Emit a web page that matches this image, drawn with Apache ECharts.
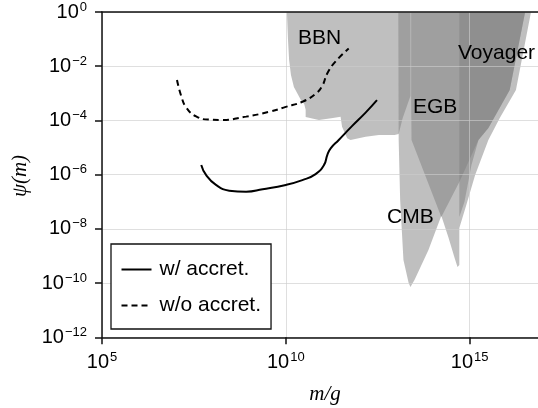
<!DOCTYPE html>
<html>
<head>
<meta charset="utf-8">
<script src="https://cdn.jsdelivr.net/npm/echarts@6/dist/echarts.min.js"></script>
<style>
  html, body { margin: 0; padding: 0; background: #fff; }
  #chart { width: 538px; height: 408px; }
</style>
</head>
<body>
<div id="chart"></div>
<script>
// All values are decimal exponents: [log10(m / g), log10(psi)]

// Mass function with accretion
const withAccretion = [
  [7.70, -5.64], [7.83, -6.01], [8.10, -6.38], [8.46, -6.59], [8.92, -6.63],
  [9.37, -6.54], [10.00, -6.38], [10.45, -6.20], [10.81, -5.98], [11.04, -5.64],
  [11.13, -5.27], [11.22, -5.03], [11.44, -4.72], [11.80, -4.21], [12.17, -3.71],
  [12.48, -3.25]
];

// Mass function without accretion
const withoutAccretion = [
  [7.04, -2.51], [7.16, -3.12], [7.29, -3.52], [7.56, -3.85], [7.92, -3.97],
  [8.24, -3.98], [8.92, -3.86], [9.55, -3.68], [10.00, -3.50], [10.45, -3.31],
  [10.81, -3.02], [10.99, -2.73], [11.13, -2.26], [11.35, -1.83], [11.71, -1.35]
];

// Excluded regions (outlines, closed along the top of the plot)
const bbnRegion = [
  [10.03, 0], [10.06, -1.03], [10.09, -1.77], [10.14, -2.32], [10.22, -2.77],
  [10.41, -3.25], [10.50, -3.39], [10.54, -3.61], [10.54, -3.87], [10.90, -3.98],
  [11.28, -3.91], [11.49, -3.86], [11.53, -4.23], [11.67, -4.66], [11.76, -4.72],
  [12.17, -4.60], [12.53, -4.54], [12.96, -4.54], [13.07, -4.50], [13.18, -3.91],
  [13.39, -3.10], [13.39, 0]
];
const cmbRegion = [
  [13.06, 0], [13.07, -4.72], [13.11, -6.93], [13.20, -9.15], [13.34, -9.99],
  [13.39, -10.14], [13.50, -9.89], [13.88, -8.78], [14.23, -7.52], [14.42, -8.30],
  [14.59, -9.07], [14.67, -9.41], [14.72, -9.33], [14.72, -7.97], [14.91, -7.12],
  [15.15, -6.01], [15.51, -4.72], [15.82, -3.91], [16.26, -2.88], [16.67, 0]
];
const egbRegion = [
  [13.41, 0], [13.41, -3.17], [13.42, -4.72], [14.23, -7.56], [14.72, -6.27],
  [15.24, -4.72], [15.51, -4.28], [16.09, -2.88], [16.51, 0]
];
const voyagerRegion = [
  [14.72, 0], [14.72, -7.56], [14.86, -7.00], [15.05, -5.64], [15.24, -4.72],
  [15.51, -4.28], [16.09, -2.88], [16.51, 0]
];

// Axis ticks
const xTicks = [5, 10, 15];
const yTicks = [-12, -10, -8, -6, -4, -2, 0];

const regionFill = 'rgba(128,128,128,0.5)';
const ink = '#111';
const sans = 'Liberation Sans, Arial, sans-serif';

function powerLabel(v, ticks) {
  if (ticks.indexOf(v) < 0) return '';
  const exp = v < 0 ? '\u2212' + Math.abs(v) : String(v);
  return '{b|10}{s|' + exp + '}';
}

const richPow = {
  b: { fontSize: 20, fontFamily: sans, color: '#000' },
  s: { fontSize: 13, fontFamily: sans, color: '#000', padding: [0, 0, 10, 1] }
};

function regionSeries(name, pts) {
  return {
    type: 'custom',
    name: name,
    data: pts,
    z: 1,
    silent: true,
    clip: true,
    encode: { x: 0, y: 1 },
    renderItem: function (params, api) {
      if (params.dataIndex !== 0) return null;
      return {
        type: 'polygon',
        shape: { points: pts.map(function (p) { return api.coord(p); }) },
        style: { fill: regionFill }
      };
    }
  };
}

const chart = echarts.init(document.getElementById('chart'), null, { renderer: 'canvas' });

chart.setOption({
  animation: false,
  backgroundColor: '#fff',
  grid: { left: 102, top: 12, right: -2, bottom: 70.7, containLabel: false },
  xAxis: [{
    type: 'value', min: 5, max: 16.86, interval: 5, position: 'bottom', z: 2,
    axisLine: { show: true, onZero: false, lineStyle: { color: ink, width: 1.5 } },
    axisTick: { show: true, inside: false, length: 7, lineStyle: { color: ink, width: 1.5 } },
    axisLabel: {
      margin: 14, showMaxLabel: false,
      formatter: function (v) { return powerLabel(v, xTicks); },
      rich: richPow
    },
    splitLine: { show: true, lineStyle: { color: 'rgba(205,205,205,0.63)', width: 1 } }
  }, {
    type: 'value', min: 5, max: 16.86, position: 'top', z: 4,
    axisLine: { show: true, onZero: false, lineStyle: { color: ink, width: 1.5 } },
    axisTick: { show: false }, axisLabel: { show: false }, splitLine: { show: false }
  }],
  yAxis: {
    type: 'value', min: -12, max: 0, interval: 2, z: 2,
    axisLine: { show: true, onZero: false, lineStyle: { color: ink, width: 1.5 } },
    axisTick: { show: true, inside: false, length: 7, lineStyle: { color: ink, width: 1.5 } },
    axisLabel: {
      margin: 15,
      formatter: function (v) { return powerLabel(v, yTicks); },
      rich: richPow
    },
    splitLine: { show: true, lineStyle: { color: 'rgba(205,205,205,0.63)', width: 1 } }
  },
  legend: {
    data: ['w/ accret.', 'w/o accret.'],
    orient: 'vertical',
    left: 111, top: 244,
    padding: [15, 10, 13, 9.5],
    itemGap: 15,
    itemWidth: 30, itemHeight: 14,
    backgroundColor: '#fff',
    borderColor: ink, borderWidth: 1.3, borderRadius: 0,
    itemStyle: { opacity: 0 },
    lineStyle: { width: 2 },
    textStyle: { fontSize: 21, fontFamily: sans, color: '#000', lineHeight: 20, padding: [0, 0, 0, 3] }
  },
  graphic: [
    { type: 'text', left: 298, top: 28, z: 10, style: { text: 'BBN', font: '21px ' + sans, fill: '#000' } },
    { type: 'text', left: 413, top: 97, z: 10, style: { text: 'EGB', font: '21px ' + sans, fill: '#000' } },
    { type: 'text', left: 458, top: 43, z: 10, style: { text: 'Voyager', font: '21px ' + sans, fill: '#000' } },
    { type: 'text', left: 387, top: 207, z: 10, style: { text: 'CMB', font: '21px ' + sans, fill: '#000' } },
    { type: 'text', x: 20, y: 176, rotation: Math.PI / 2, z: 10,
      style: { text: '\u03c8(m)', font: 'italic 21px Liberation Serif, serif', fill: '#000', align: 'center', verticalAlign: 'middle' } },
    { type: 'text', x: 325, y: 394, z: 10,
      style: { text: 'm/g', font: 'italic 21px Liberation Serif, serif', fill: '#000', align: 'center', verticalAlign: 'middle' } }
  ],
  series: [
    regionSeries('BBN', bbnRegion),
    regionSeries('CMB', cmbRegion),
    regionSeries('EGB', egbRegion),
    regionSeries('Voyager', voyagerRegion),
    {
      type: 'line', name: 'w/ accret.', data: withAccretion, z: 5,
      symbol: 'none', showSymbol: false, smooth: 0.5,
      lineStyle: { color: '#000', width: 2 }, itemStyle: { color: '#000' }
    },
    {
      type: 'line', name: 'w/o accret.', data: withoutAccretion, z: 5,
      symbol: 'none', showSymbol: false, smooth: 0.5,
      lineStyle: { color: '#000', width: 2, type: [6, 4] }, itemStyle: { color: '#000' }
    }
  ]
});
</script>
</body>
</html>
